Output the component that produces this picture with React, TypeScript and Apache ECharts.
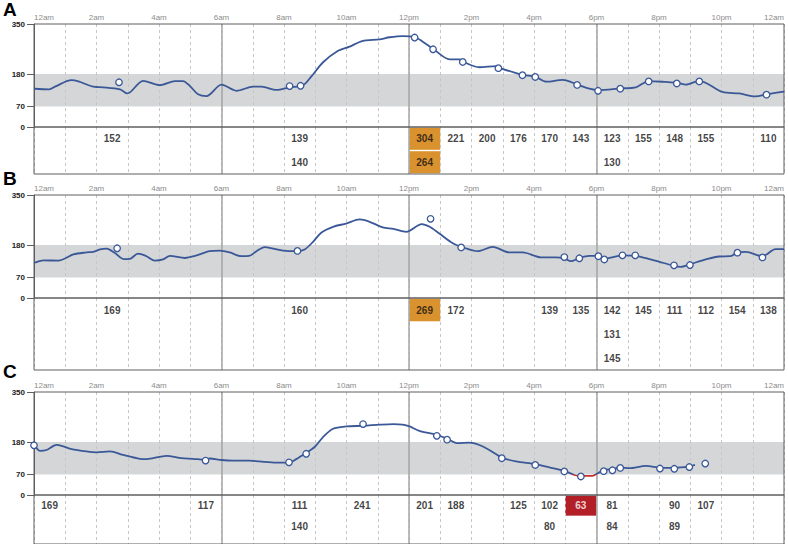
import React, { useEffect, useRef } from 'react';
import * as echarts from 'echarts';

// ---------------- Data ----------------
const hourLabels = ['12am', '', '2am', '', '4am', '', '6am', '', '8am', '', '10am', '', '12pm', '', '2pm', '', '4pm', '', '6pm', '', '8pm', '', '10pm', '', '12am'];
const yTickValues = [0, 70, 180, 350];
const targetLow = 70;
const targetHigh = 180;
const dividerHours = [6, 12, 18];

// CGM traces [hour, mg/dL]
const cgmA = [
  [0, 130], [0.49, 128], [0.67, 137], [1.2, 159], [1.42, 155], [1.95, 136], [2.22, 135], [2.75, 128], [2.99, 114],
  [3.49, 157], [4.03, 142], [4.51, 156], [4.77, 156], [4.99, 139], [5.25, 111], [5.52, 105], [6.0, 144], [6.48, 123],
  [7.01, 137], [7.28, 137], [7.76, 126], [8.18, 135], [8.61, 142], [8.87, 171], [9.25, 220], [9.73, 259], [10.1, 273],
  [10.5, 292], [11.06, 298], [11.38, 305], [11.8, 309], [12.2, 305], [12.44, 290], [12.79, 264], [13.3, 230], [13.61, 230],
  [13.72, 222], [14.25, 203], [14.79, 207], [14.89, 201], [15.64, 177], [16.04, 171], [16.39, 154], [16.92, 160],
  [17.4, 144], [17.77, 130], [18.06, 125], [18.76, 131], [19.26, 135], [19.67, 156], [20.22, 153], [20.59, 150],
  [20.86, 144], [21.29, 157], [22.03, 119], [22.57, 114], [23.09, 104], [23.45, 111], [24, 120],
];
const cgmB = [
  [0, 119], [0.3, 128], [0.78, 127], [1.26, 148], [1.68, 155], [1.9, 157], [2.11, 165], [2.32, 168], [2.59, 153],
  [2.88, 132], [3.07, 133], [3.33, 151], [3.6, 142], [3.87, 127], [4.13, 131], [4.35, 143], [4.83, 136], [5.15, 143],
  [5.62, 159], [5.94, 161], [6.26, 155], [6.64, 142], [6.88, 143], [7.12, 159], [7.38, 173], [7.65, 168], [7.97, 161],
  [8.39, 159], [8.66, 165], [8.93, 191], [9.19, 222], [9.57, 242], [9.99, 253], [10.42, 267], [10.74, 259],
  [11.16, 240], [11.5, 235], [11.91, 225], [12.41, 251], [12.66, 242], [12.97, 219], [13.4, 186], [13.67, 174],
  [14.2, 159], [14.68, 174], [15.21, 155], [15.64, 155], [16.23, 138], [16.7, 138], [16.97, 134], [17.18, 125],
  [17.45, 136], [17.77, 143], [18.04, 143], [18.25, 132], [18.41, 136], [18.83, 145], [19.26, 143], [19.69, 132],
  [20.01, 123], [20.43, 111], [20.7, 106], [20.97, 114], [21.5, 131], [21.92, 141], [22.29, 142], [22.51, 155],
  [22.78, 157], [23.31, 142], [23.73, 166], [24, 166],
];
const cgmC = [
  [0, 174], [0.19, 150], [0.4, 153], [0.72, 170], [0.94, 165], [1.2, 156], [1.68, 148], [2.0, 145], [2.43, 148],
  [2.86, 136], [3.39, 123], [3.6, 122], [4.24, 133], [4.72, 125], [5.09, 123], [5.47, 120], [5.62, 124], [6.0, 119],
  [6.37, 117], [6.9, 117], [7.22, 114], [7.76, 110], [8.16, 110], [8.39, 122], [8.69, 142], [8.98, 163], [9.25, 197],
  [9.57, 225], [9.99, 233], [10.53, 235], [11.06, 239], [11.5, 241], [11.8, 239], [12.02, 233], [12.33, 218],
  [12.87, 205], [13.24, 190], [13.56, 176], [13.93, 178], [14.25, 170], [14.57, 153], [14.97, 127], [15.42, 114],
  [16.04, 105], [16.49, 94], [16.97, 82], [17.29, 68], [17.5, 65], [17.87, 65], [18.04, 74], [18.25, 85], [18.51, 88],
  [18.76, 94], [19.05, 91], [19.58, 99], [20.03, 93], [20.49, 92], [20.97, 97], [21.15, 102],
];

// Fingerstick readings [hour, mg/dL]
const fingerA = [
  [2.72, 152], [8.18, 139], [8.53, 140], [12.18, 304], [12.77, 264], [13.72, 221], [14.86, 200], [15.63, 176],
  [16.04, 170], [17.38, 143], [18.05, 123], [18.76, 130], [19.67, 155], [20.57, 148], [21.29, 155], [23.44, 110],
];
const fingerB = [
  [2.66, 169], [8.43, 160], [12.69, 269], [13.67, 172], [16.97, 139], [17.45, 135], [18.06, 142], [18.25, 131],
  [18.83, 145], [19.24, 145], [20.48, 111], [20.99, 112], [22.51, 154], [23.31, 138],
];
const fingerC = [
  [0.0, 169], [5.49, 117], [8.16, 111], [8.71, 140], [10.53, 241], [12.89, 201], [13.22, 188], [14.97, 125],
  [16.04, 102], [16.97, 80], [17.5, 63], [18.23, 81], [18.51, 84], [18.76, 92], [20.03, 90], [20.49, 89],
  [20.97, 95], [21.48, 107],
];

// Table cells [hour bin, row, value]
const tableA = [
  [2, 0, 152], [8, 0, 139], [8, 1, 140], [12, 0, 304], [12, 1, 264], [13, 0, 221], [14, 0, 200], [15, 0, 176],
  [16, 0, 170], [17, 0, 143], [18, 0, 123], [18, 1, 130], [19, 0, 155], [20, 0, 148], [21, 0, 155], [23, 0, 110],
];
const tableB = [
  [2, 0, 169], [8, 0, 160], [12, 0, 269], [13, 0, 172], [16, 0, 139], [17, 0, 135], [18, 0, 142], [18, 1, 131],
  [18, 2, 145], [19, 0, 145], [20, 0, 111], [21, 0, 112], [22, 0, 154], [23, 0, 138],
];
const tableC = [
  [0, 0, 169], [5, 0, 117], [8, 0, 111], [8, 1, 140], [10, 0, 241], [12, 0, 201], [13, 0, 188], [15, 0, 125],
  [16, 0, 102], [16, 1, 80], [17, 0, 63], [18, 0, 81], [18, 1, 84], [20, 0, 90], [20, 1, 89], [21, 0, 107],
];

// Highlighted cells [hour bin, row, kind]
const highlightA: [number, number, string][] = [[12, 0, 'high'], [12, 1, 'high']];
const highlightB: [number, number, string][] = [[12, 0, 'high']];
const highlightC: [number, number, string][] = [[17, 0, 'low']];

// ---------------- Styling ----------------
const FONT = '"Liberation Sans", Arial, Helvetica, sans-serif';
const BLUE = '#3a5897';
const RED_LINE = '#c9302c';
const ORANGE = '#da922f';
const RED_BOX = '#b21f27';
const BORDER = '#5e5e5e';
const DASH = '#c6c6c6';
const BAND = 'rgba(160,163,168,0.45)';

function dividerMarkLine() {
  return {
    silent: true,
    z: 1.6,
    symbol: ['none', 'none'],
    label: { show: false },
    lineStyle: { color: '#a4a4a4', type: 'solid', width: 1.5 },
    data: dividerHours.map((h) => ({ xAxis: h })),
  };
}
function splitLine() {
  return { show: true, lineStyle: { color: DASH, type: [3, 3], width: 1 } };
}

const panels = [
  { letter: 'A', cgm: cgmA, finger: fingerA, table: tableA, hl: highlightA, top: 24, rowH: 23.5, shown: 2, letterY: 0, red: false },
  { letter: 'B', cgm: cgmB, finger: fingerB, table: tableB, hl: highlightB, top: 195, rowH: 24, shown: 3, letterY: 168.5, red: false },
  { letter: 'C', cgm: cgmC, finger: fingerC, table: tableC, hl: highlightC, top: 392, rowH: 24, shown: 2.3, letterY: 361.5, red: true },
];

function buildOption() {
  const plotH = 103;
  const grids: any[] = [];
  const xAxes: any[] = [];
  const yAxes: any[] = [];
  const series: any[] = [];
  const graphics: any[] = [];

  panels.forEach((p, i) => {
    const gi = 2 * i;
    const ti = 2 * i + 1;
    grids.push({ left: 34, width: 750, top: p.top, height: plotH, show: true, borderColor: BORDER, borderWidth: 1, z: 1.7, backgroundColor: 'rgba(0,0,0,0)' });
    grids.push({ left: 34, width: 750, top: p.top + plotH, height: p.shown * p.rowH, show: true, borderColor: BORDER, borderWidth: 1, z: 1.7, backgroundColor: 'rgba(0,0,0,0)' });

    xAxes.push({
      gridIndex: gi, type: 'value', min: 0, max: 24, interval: 1, position: 'top', z: 1.5,
      axisLine: { show: false }, axisTick: { show: false },
      axisLabel: {
        show: true, formatter: (v: number) => hourLabels[Math.round(v)] || '', color: '#8c8c8c', fontSize: 8,
        fontFamily: FONT, margin: 3, alignMinLabel: 'left', alignMaxLabel: 'right', showMinLabel: true, showMaxLabel: true,
      },
      splitLine: splitLine(),
    });
    xAxes.push({
      gridIndex: ti, type: 'value', min: 0, max: 24, interval: 1, z: 1.5,
      axisLine: { show: false }, axisTick: { show: false }, axisLabel: { show: false }, splitLine: splitLine(),
    });
    yAxes.push({
      gridIndex: gi, type: 'value', min: 0, max: 350, z: 1.5,
      axisLine: { show: true, lineStyle: { color: BORDER, width: 1 } },
      axisTick: { show: true, customValues: yTickValues, length: 7, lineStyle: { color: BORDER } },
      axisLabel: { customValues: yTickValues, fontSize: 8, fontWeight: 'bold', color: '#222', margin: 9, fontFamily: FONT },
      splitLine: { show: false },
    });
    yAxes.push({ gridIndex: ti, type: 'value', min: 0, max: p.shown, inverse: true, show: false, splitLine: { show: false } });

    series.push({
      id: 'cgm' + i,
      type: 'line', xAxisIndex: gi, yAxisIndex: gi, data: p.cgm, smooth: 0.3, symbol: 'none', showSymbol: false, z: 2,
      lineStyle: { width: 1.8, color: BLUE },
      itemStyle: { color: BLUE },
      markArea: {
        silent: true, z: 1, itemStyle: { color: BAND },
        data: [[{ xAxis: 0, yAxis: targetLow }, { xAxis: 24, yAxis: targetHigh }]],
      },
      markLine: dividerMarkLine(),
    });

    series.push({
      type: 'scatter', xAxisIndex: gi, yAxisIndex: gi, data: p.finger, symbol: 'circle', symbolSize: 6.5, z: 3,
      itemStyle: { color: '#ffffff', borderColor: BLUE, borderWidth: 1.3, opacity: 1 },
    });

    const items = p.table.map(([bin, row, val]) => {
      const h = p.hl.find((c) => c[0] === bin && c[1] === row);
      const item: any = { value: [bin + 0.5, row + 0.5, val] };
      if (h && h[2] === 'low') item.label = { color: '#ffffff' };
      return item;
    });
    series.push({
      type: 'scatter', xAxisIndex: ti, yAxisIndex: ti, data: items, symbolSize: 1, z: 4,
      itemStyle: { color: 'rgba(0,0,0,0)' },
      label: {
        show: true, position: 'inside', formatter: (q: any) => String(q.value[2]), fontSize: 10, fontWeight: 'bold',
        color: '#111', fontFamily: FONT,
      },
      markArea: {
        silent: true, z: 1,
        data: p.hl.map(([bin, row, kind]) => [
          { xAxis: bin, yAxis: row + 0.03, itemStyle: { color: kind === 'low' ? RED_BOX : ORANGE } },
          { xAxis: bin + 1, yAxis: row + 0.97 },
        ]),
      },
      markLine: dividerMarkLine(),
    });

    graphics.push({
      type: 'text', left: 3, top: p.letterY, z: 10,
      style: { text: p.letter, font: `bold 19px ${FONT}`, fill: '#000' },
    });
  });

  return {
    animation: false,
    backgroundColor: '#ffffff',
    grid: grids,
    xAxis: xAxes,
    yAxis: yAxes,
    series,
    graphic: graphics,
  };
}

export default function App() {
  const ref = useRef<HTMLDivElement>(null);
  useEffect(() => {
    if (!ref.current) return;
    const chart = echarts.init(ref.current, null, { renderer: 'svg' });
    try {
      chart.setOption(buildOption() as any);
      // colour the part of trace C that lies below the target range red, at the axis position of targetLow
      panels.forEach((p, i) => {
        if (!p.red) return;
        const yLow = chart.convertToPixel({ yAxisIndex: 2 * i } as any, targetLow) as unknown as number;
        const grad = new echarts.graphic.LinearGradient(0, yLow - 0.5, 0, yLow + 0.5, [
          { offset: 0, color: BLUE },
          { offset: 1, color: RED_LINE },
        ], true);
        chart.setOption({ series: [{ id: 'cgm' + i, lineStyle: { color: grad } }] } as any);
      });
    } catch (e) {
      console.error('setOption failed', (e as any)?.stack || e);
    }
    return () => chart.dispose();
  }, []);
  return <div ref={ref} style={{ position: 'absolute', left: 0, top: 0, width: 788, height: 544 }} />;
}
